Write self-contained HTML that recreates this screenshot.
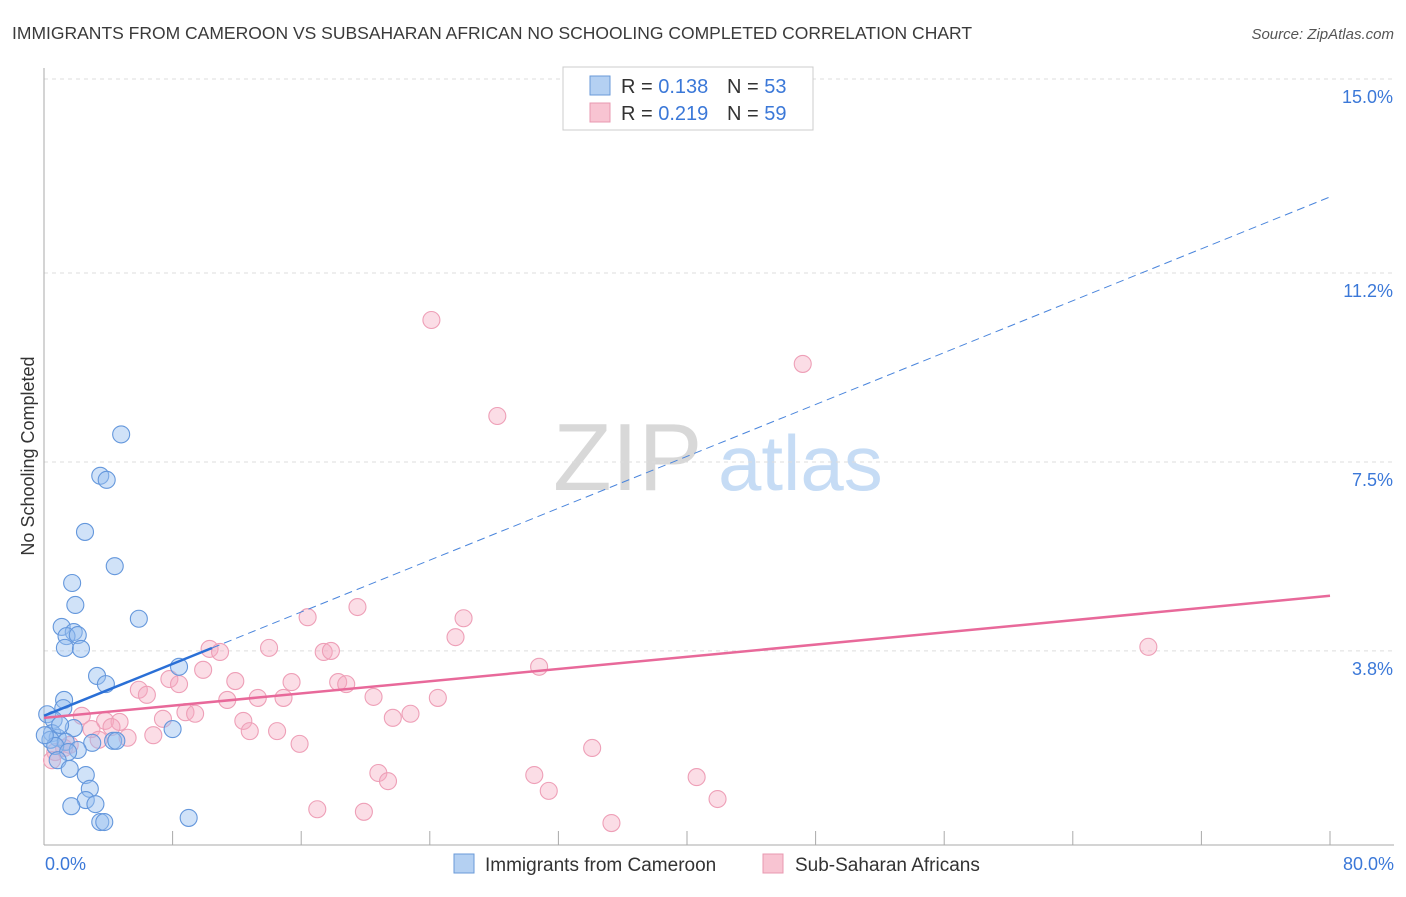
<!DOCTYPE html>
<html><head><meta charset="utf-8"><style>
body{margin:0;background:#fff;font-family:"Liberation Sans",sans-serif}
svg text{font-family:"Liberation Sans",sans-serif}
</style></head><body>
<svg id="chart" width="1406" height="892">
<text x="12" y="39" font-size="17.5" fill="#3a3a3a">IMMIGRANTS FROM CAMEROON VS SUBSAHARAN AFRICAN NO SCHOOLING COMPLETED CORRELATION CHART</text>
<text x="1394" y="39" font-size="15" fill="#555" font-style="italic" text-anchor="end">Source: ZipAtlas.com</text>
<text x="34" y="456" font-size="18" fill="#333" text-anchor="middle" transform="rotate(-90 34 456)">No Schooling Completed</text>
<g>
<text x="553" y="490" font-size="96" fill="#d8d8d8" font-family="Liberation Serif,serif">ZIP</text>
<text x="718" y="490" font-size="78" fill="#c6dcf5">atlas</text>
</g>
<g id="grid"></g><g id="axes"></g><g id="pts"></g><g id="lines"></g>
<g>
<rect x="563" y="67" width="250" height="63" fill="#fff" stroke="#ccc"/>
<rect x="590" y="76" width="20" height="19" fill="#b4d0f2" stroke="#6a9ad8"/>
<rect x="590" y="103" width="20" height="19" fill="#f8c4d2" stroke="#e898b0"/>
<text x="621" y="93" font-size="20" fill="#333">R = <tspan fill="#3b78d8">0.138</tspan></text>
<text x="727" y="93" font-size="20" fill="#333">N = <tspan fill="#3b78d8">53</tspan></text>
<text x="621" y="120" font-size="20" fill="#333">R = <tspan fill="#3b78d8">0.219</tspan></text>
<text x="727" y="120" font-size="20" fill="#333">N = <tspan fill="#3b78d8">59</tspan></text>
</g>
<g>
<rect x="454" y="854" width="20" height="19" fill="#b4d0f2" stroke="#6a9ad8"/>
<text x="485" y="871" font-size="19" fill="#333">Immigrants from Cameroon</text>
<rect x="763" y="854" width="20" height="19" fill="#f8c4d2" stroke="#e898b0"/>
<text x="795" y="871" font-size="19" fill="#333">Sub-Saharan Africans</text>
</g>
</svg>
<script>
const yTicks=[3.8,7.5,11.2,15.0];
const yTickLabels=["3.8%","7.5%","11.2%","15.0%"];
const xTicks=[8,16,24,32,40,48,56,64,72,80];
const xEndLabels=["0.0%","80.0%"];
const blueX=[4.8,3.5,3.9,2.55,4.4,1.75,1.95,5.9,1.1,1.85,1.4,2.1,1.3,2.3,8.4,3.3,3.85,1.25,1.2,0.2,0.6,8.0,1.85,0.5,0.85,0.4,1.35,0.7,3.0,4.3,4.5,2.1,1.5,0.85,1.6,2.6,2.85,2.6,3.2,1.7,3.5,3.75,9.0,1.0,0.05];
const blueY=[8.04,7.23,7.15,6.13,5.46,5.13,4.70,4.43,4.27,4.17,4.09,4.11,3.86,3.84,3.49,3.31,3.15,2.84,2.68,2.56,2.45,2.27,2.29,2.19,2.10,2.06,2.02,1.94,2.0,2.04,2.04,1.86,1.82,1.66,1.49,1.37,1.10,0.88,0.80,0.76,0.45,0.45,0.53,2.35,2.15];
const pinkX=[24.1,47.2,28.2,68.7,16.4,19.5,26.1,25.6,30.8,10.3,10.95,14.0,17.4,17.85,9.9,7.8,8.4,11.9,15.4,18.3,18.8,5.9,6.4,11.4,13.3,14.9,20.5,24.5,8.8,9.4,7.4,12.4,21.7,22.8,2.35,3.8,4.7,4.2,2.95,12.8,14.5,6.8,5.2,3.4,15.9,34.1,1.25,0.7,0.5,20.8,21.4,30.5,40.6,31.4,41.9,17.0,19.9,35.3,1.6];
const pinkY=[10.28,9.42,8.40,3.88,4.46,4.66,4.44,4.07,3.49,3.84,3.78,3.86,3.78,3.80,3.43,3.25,3.15,3.21,3.19,3.19,3.15,3.04,2.94,2.84,2.88,2.88,2.90,2.88,2.60,2.57,2.47,2.43,2.49,2.57,2.53,2.43,2.41,2.31,2.27,2.23,2.23,2.15,2.10,2.06,1.98,1.90,1.90,1.82,1.66,1.41,1.25,1.37,1.33,1.06,0.90,0.70,0.65,0.43,1.96];
const blueTrend=[2.53,12.69]; const blueSolidEnd=10.45;
const pinkTrend=[2.49,4.88];
const X=v=>44+v*16.075, Y=v=>845-v*51.07;
const NS="http://www.w3.org/2000/svg";
function mk(parent,tag,attrs){const e=document.createElementNS(NS,tag);for(const k in attrs)e.setAttribute(k,attrs[k]);document.getElementById(parent).appendChild(e);return e;}
yTicks.forEach((t,i)=>{
 const l=mk('grid','line',{x1:44,x2:1394,y1:Y(t),y2:Y(t),stroke:'#ddd','stroke-dasharray':'4,4'});
 
 
 const tx=mk('grid','text',{x:1393,y:Y(t)+24,'font-size':18,fill:'#3b78d8','text-anchor':'end'});
 tx.textContent=yTickLabels[i];
 
 
});
const ax=mk('axes','line',{x1:44,x2:44,y1:68,y2:845,stroke:'#aaa'});


const bx=mk('axes','line',{x1:44,x2:1394,y1:845,y2:845,stroke:'#aaa'});


xTicks.forEach(t=>{
 const l=mk('axes','line',{x1:X(t),x2:X(t),y1:831,y2:845,stroke:'#aaa'});
 
 
});
[[0,'start',45],[80,'end',1394]].forEach((d,i)=>{
 const tx=mk('axes','text',{x:d[2],y:870,'font-size':18,fill:'#3b78d8','text-anchor':d[1]});
 tx.textContent=xEndLabels[i];
 
 
});
pinkX.forEach((v,i)=>{
 const c=mk('pts','circle',{cx:X(v),cy:Y(pinkY[i]),r:8.5,fill:'rgba(245,170,192,0.4)',stroke:'#ee9fb7','stroke-width':1.1});
 
 
});
blueX.forEach((v,i)=>{
 const c=mk('pts','circle',{cx:X(v),cy:Y(blueY[i]),r:8.5,fill:'rgba(150,190,240,0.45)',stroke:'#6497dc','stroke-width':1.1});
 
 
});
const bt=v=>blueTrend[0]+(blueTrend[1]-blueTrend[0])*v/80;
const l1=mk('lines','line',{x1:X(0),y1:Y(bt(0)),x2:X(blueSolidEnd),y2:Y(bt(blueSolidEnd)),stroke:'#2a6fd6','stroke-width':2.5});


const l2=mk('lines','line',{x1:X(blueSolidEnd),y1:Y(bt(blueSolidEnd)),x2:X(80),y2:Y(bt(80)),stroke:'#4a85dc','stroke-width':1,'stroke-dasharray':'8,5'});


const l3=mk('lines','line',{x1:X(0),y1:Y(pinkTrend[0]),x2:X(80),y2:Y(pinkTrend[1]),stroke:'#e8699a','stroke-width':2.5});


</script>
</body></html>
